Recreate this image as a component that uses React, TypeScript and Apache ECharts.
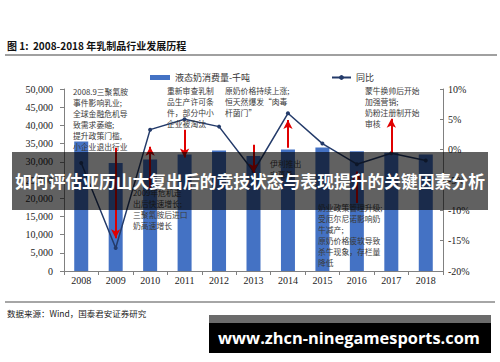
import React, { useEffect, useRef } from 'react';
import * as echarts from 'echarts';

const years = ['2008', '2009', '2010', '2011', '2012', '2013', '2014', '2015', '2016', '2017', '2018'];
const consumption = [35600, 29700, 30600, 32000, 33100, 31600, 33400, 33900, 32900, 32500, 32000];
const yoy = [-2.2, -16.2, 3.3, 5.0, 3.8, -3.6, 6.0, 1.0, -2.4, -0.6, -1.8];
const arrowYears = ['2009', '2010', '2011', '2013', '2014', '2016', '2017'];
const arrowFrom = [0.3, -6.5, 3.3, 0.8, 0.3, -8.8, -0.5];
const arrowTo = [-14.6, 0.5, -1.3, -3.8, 4.9, -3.6, 5.1];

const titleText = '图 1:  2008-2018 年乳制品行业发展历程';
const sourceText = '数据来源：Wind，国泰君安证券研究';
const overlayText = '如何评估亚历山大复出后的竞技状态与表现提升的关键因素分析';
const watermarkText = 'www.zhcn-ninegamesports.com';
const barName = '液态奶消费量-千吨';
const lineName = '同比';
const notes = [
  '2008.9三聚氰胺\n事件影响乳业;\n全球金融危机导\n致需求萎缩;\n提升政策门槛,\n小企业退出行业',
  '重新审查乳制\n品生产许可条\n件，部分中小\n企业被淘汰',
  '原奶价格持续上涨;\n恒天然爆发“肉毒\n杆菌门”',
  '蒙牛换帅后开始\n加强营销;\n奶粉注册制开始\n审核',
  '2009年危机走\n出后快速增长;\n三聚氰胺后进口\n奶高速增长',
  '伊利推出\n安慕希',
  '奶业政策管理升级;\n受厄尔尼诺影响奶\n牛减产;\n原奶价格疲软导致\n杀牛现象，存栏量\n降低',
];
const notePos = [
  [73, 86], [167, 85], [225, 85], [365, 85], [133, 187], [270, 158], [318, 202],
];

const serif = '"Liberation Serif", "DejaVu Serif", serif';
const cjk = '"Noto Sans CJK SC", sans-serif';

export default function App() {
  const ref = useRef<HTMLDivElement>(null);
  useEffect(() => {
    document.body.style.margin = '0';
    const chart = echarts.init(ref.current!, undefined, { renderer: 'svg' });
    const noteGraphics = notes.map((t, i) => ({
      type: 'text',
      x: notePos[i][0],
      y: notePos[i][1],
      z: 50,
      style: {
        text: t,
        font: '7.8px ' + cjk,
        fill: '#3a3a3a',
        lineHeight: 11,
        textVerticalAlign: 'top',
      },
    }));
    chart.setOption({
      animation: false,
      backgroundColor: '#fff',
      grid: { left: 64, right: 57, top: 89, bottom: 91 },
      legend: [
        {
          data: [barName],
          left: 145,
          top: 68,
          itemWidth: 20,
          itemHeight: 5,
          icon: 'rect',
          textStyle: { fontSize: 9, fontFamily: cjk, color: '#333' },
        },
        {
          data: [lineName],
          left: 326,
          top: 68,
          itemWidth: 19,
          itemHeight: 6,
          textStyle: { fontSize: 9, fontFamily: cjk, color: '#333' },
        },
      ],
      xAxis: {
        type: 'category',
        data: years,
        axisLine: { lineStyle: { color: '#808080', width: 1 } },
        axisTick: { show: true, length: 4, lineStyle: { color: '#808080' } },
        axisLabel: { color: '#222', fontSize: 10, fontFamily: serif, margin: 4 },
      },
      yAxis: [
        {
          type: 'value',
          min: 0,
          max: 50000,
          interval: 5000,
          splitLine: { show: false },
          axisLine: { show: true, lineStyle: { color: '#808080' } },
          axisTick: { show: true, length: 4, lineStyle: { color: '#808080' } },
          axisLabel: {
            color: '#222',
            fontSize: 10,
            fontFamily: serif,
            margin: 11,
            formatter: (v: number) => v.toLocaleString('en-US'),
          },
        },
        {
          type: 'value',
          min: -20,
          max: 10,
          interval: 5,
          splitLine: { show: false },
          axisLine: { show: true, lineStyle: { color: '#808080' } },
          axisTick: { show: true, inside: true, length: 3, lineStyle: { color: '#808080' } },
          axisLabel: { color: '#222', fontSize: 10, fontFamily: serif, margin: 5, formatter: '{value}%' },
        },
      ],
      series: [
        {
          name: barName,
          type: 'bar',
          data: consumption,
          barWidth: 14,
          itemStyle: { color: '#4472c4' },
        },
        {
          name: lineName,
          type: 'line',
          yAxisIndex: 1,
          data: yoy,
          symbol: 'circle',
          symbolSize: 4,
          lineStyle: { color: '#243b6a', width: 1.5 },
          itemStyle: { color: '#243b6a' },
          markLine: {
            silent: true,
            symbol: ['none', 'arrow'],
            symbolSize: [7, 9],
            label: { show: false },
            lineStyle: { color: '#e00000', width: 2, type: 'solid' },
            data: arrowYears.map((y, i) => [
              { coord: [y, arrowFrom[i]] },
              { coord: [y, arrowTo[i]] },
            ]),
          },
        },
      ],
      graphic: [
        {
          type: 'text',
          x: 7,
          y: 45,
          style: {
            text: titleText,
            font: 'bold 10px ' + cjk,
            fill: '#111',
            textVerticalAlign: 'middle',
          },
        },
        { type: 'line', shape: { x1: 5, y1: 55, x2: 497, y2: 55 }, style: { stroke: '#808080', lineWidth: 1.5 } },
        { type: 'line', shape: { x1: 5, y1: 302, x2: 495, y2: 302 }, style: { stroke: '#a6a6a6', lineWidth: 2 } },
        {
          type: 'text',
          x: 7,
          y: 313,
          style: { text: sourceText, font: '8.5px ' + cjk, fill: '#222', textVerticalAlign: 'middle' },
        },
        ...noteGraphics,
        {
          type: 'rect',
          z: 100,
          shape: { x: 12, y: 152, width: 476, height: 58 },
          style: { fill: 'rgba(0,0,0,0.62)' },
        },
        {
          type: 'text',
          z: 101,
          x: 250,
          y: 181,
          style: {
            text: overlayText,
            font: 'bold 16.8px ' + cjk,
            fill: '#fff',
            textAlign: 'center',
            textVerticalAlign: 'middle',
          },
        },
        {
          type: 'rect',
          z: 100,
          shape: { x: 209, y: 315, width: 282, height: 38 },
          style: { fill: '#000' },
        },
        {
          type: 'rect',
          z: 100,
          shape: { x: 209, y: 315, width: 282, height: 8 },
          style: { fill: '#6b6b6b' },
        },
        {
          type: 'text',
          z: 101,
          x: 349,
          y: 337,
          style: {
            text: watermarkText,
            font: 'bold 16.4px "Open Sans", sans-serif',
            fill: '#fff',
            textAlign: 'center',
            textVerticalAlign: 'middle',
          },
        },
      ],
    });
    return () => chart.dispose();
  }, []);
  return <div ref={ref} style={{ width: 500, height: 362 }} />;
}
